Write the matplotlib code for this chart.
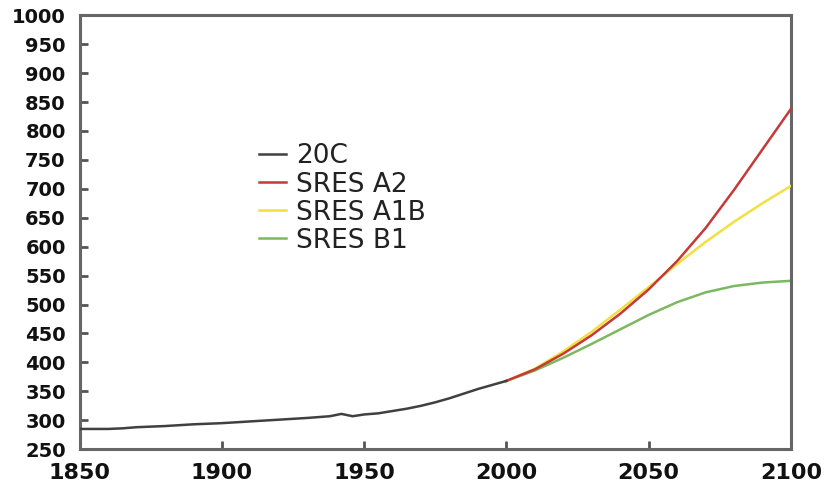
import numpy as np
import matplotlib
matplotlib.use("Agg")
import matplotlib.pyplot as plt

# 20th century CO2 (ppm)
years_20c = [1850, 1860, 1865, 1870, 1880, 1890, 1900, 1910, 1920, 1930, 1938,
             1942, 1946, 1950, 1955, 1960, 1965, 1970, 1975, 1980, 1985, 1990,
             1995, 2000]
co2_20c = [285, 285, 286, 288, 290, 293, 295, 298, 301, 304, 307,
           311, 307, 310, 312, 316, 320, 325, 331, 338, 346, 354,
           361, 368]

# SRES scenarios 2000-2100
years_sres = [2000, 2010, 2020, 2030, 2040, 2050, 2060, 2070, 2080, 2090, 2100]
co2_a2 = [368, 388, 415, 447, 484, 526, 575, 632, 698, 768, 838]
co2_a1b = [368, 389, 419, 453, 491, 530, 570, 608, 643, 675, 705]
co2_b1 = [368, 386, 408, 432, 457, 482, 504, 521, 532, 538, 541]

fig = plt.figure(figsize=(8.29, 4.92), dpi=100)
ax = fig.add_axes([0.096, 0.087, 0.858, 0.882])

ax.plot(years_sres, co2_b1, color="#7cb860", lw=1.8, label="SRES B1", zorder=2)
ax.plot(years_sres, co2_a1b, color="#f0e040", lw=1.8, label="SRES A1B", zorder=3)
ax.plot(years_sres, co2_a2, color="#c83838", lw=1.8, label="SRES A2", zorder=4)
ax.plot(years_20c, co2_20c, color="#404040", lw=1.8, label="20C", zorder=5)

ax.set_xlim(1850, 2100)
ax.set_ylim(250, 1000)
ax.set_xticks(range(1850, 2101, 50))
ax.set_yticks(range(250, 1001, 50))

for s in ax.spines.values():
    s.set_color("#666666")
    s.set_linewidth(2.2)

ax.tick_params(axis="both", direction="in", color="#555555", width=2, length=6)
ax.tick_params(axis="y", labelsize=14, pad=10)
ax.tick_params(axis="x", labelsize=16, pad=10)
for lab in ax.get_yticklabels() + ax.get_xticklabels():
    lab.set_fontweight("bold")
    lab.set_color("#111111")

handles, labels = ax.get_legend_handles_labels()
order = [3, 2, 1, 0]
leg = ax.legend([handles[i] for i in order], [labels[i] for i in order],
                loc="upper left", bbox_to_anchor=(0.3, 0.73),
                bbox_transform=fig.transFigure, frameon=False,
                fontsize=19, handlelength=1.0, handletextpad=0.4,
                labelspacing=0.08, borderaxespad=0)
for t in leg.get_texts():
    t.set_color("#222222")

fig.savefig("out.png", dpi=100)
